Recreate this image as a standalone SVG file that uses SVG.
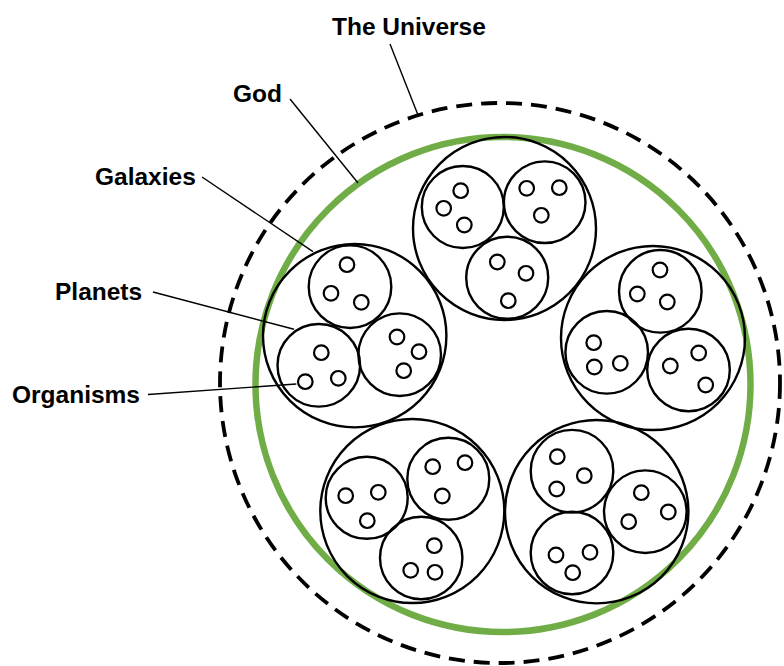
<svg xmlns="http://www.w3.org/2000/svg" width="784" height="666" viewBox="0 0 784 666">
<style>
.bg{fill:#ffffff}
.uni{fill:none;stroke:#000;stroke-width:3.8;stroke-dasharray:16 9}
.god{fill:none;stroke:#70AD47;stroke-width:6.5}
.gal{fill:none;stroke:#000;stroke-width:2.4}
.pl{fill:none;stroke:#000;stroke-width:2.4}
.org{fill:none;stroke:#000;stroke-width:2.2}
.lead{fill:none;stroke:#000;stroke-width:1.4}
.lbl{font-family:"Liberation Sans",Arial,sans-serif;font-weight:bold;font-size:24.5px;fill:#000}
</style>
<rect class="bg" x="0" y="0" width="784" height="666"/>
<g id="universe"><circle class="uni" cx="500" cy="383" r="280"/></g>
<g id="god"><circle class="god" cx="503" cy="384.5" r="247.5"/></g>

<g id="galaxy-top">
<circle class="gal" cx="504.5" cy="228.5" r="91.5"/>
<circle class="pl" cx="462.8" cy="207" r="41"/>
<circle class="pl" cx="544.7" cy="202.2" r="40.8"/>
<circle class="pl" cx="507.2" cy="277.8" r="41"/>
<circle class="org" cx="460.7" cy="190.7" r="7.3"/>
<circle class="org" cx="443.7" cy="208.3" r="7.3"/>
<circle class="org" cx="464.3" cy="225" r="7.3"/>
<circle class="org" cx="526.7" cy="188.3" r="7.3"/>
<circle class="org" cx="559.3" cy="187.7" r="7.3"/>
<circle class="org" cx="541.3" cy="215.3" r="7.3"/>
<circle class="org" cx="497.3" cy="262" r="7.3"/>
<circle class="org" cx="526" cy="273.3" r="7.3"/>
<circle class="org" cx="508.3" cy="300.7" r="7.3"/>
</g>

<g id="galaxy-right">
<circle class="gal" cx="653" cy="338" r="92"/>
<circle class="pl" cx="660.3" cy="291.3" r="41.3"/>
<circle class="pl" cx="606.7" cy="352.3" r="41.3"/>
<circle class="pl" cx="688.5" cy="370" r="41.3"/>
<circle class="org" cx="660" cy="270" r="7.3"/>
<circle class="org" cx="637.3" cy="294" r="7.3"/>
<circle class="org" cx="667.3" cy="302" r="7.3"/>
<circle class="org" cx="593.7" cy="342.7" r="7.3"/>
<circle class="org" cx="594.3" cy="367" r="7.3"/>
<circle class="org" cx="620.3" cy="363.3" r="7.3"/>
<circle class="org" cx="698.7" cy="353" r="7.3"/>
<circle class="org" cx="670.3" cy="366" r="7.3"/>
<circle class="org" cx="705.7" cy="385" r="7.3"/>
</g>

<g id="galaxy-bottom-right">
<circle class="gal" cx="596.7" cy="511.7" r="91.7"/>
<circle class="pl" cx="572" cy="471.2" r="41.3"/>
<circle class="pl" cx="645.3" cy="511.7" r="41.3"/>
<circle class="pl" cx="572" cy="553" r="41.3"/>
<circle class="org" cx="557.3" cy="456.7" r="7.3"/>
<circle class="org" cx="584.3" cy="475.7" r="7.3"/>
<circle class="org" cx="556.7" cy="489" r="7.3"/>
<circle class="org" cx="641.3" cy="492.7" r="7.3"/>
<circle class="org" cx="668.3" cy="512" r="7.3"/>
<circle class="org" cx="628.7" cy="521.7" r="7.3"/>
<circle class="org" cx="556" cy="555" r="7.3"/>
<circle class="org" cx="590" cy="552.3" r="7.3"/>
<circle class="org" cx="572.7" cy="572.7" r="7.3"/>
</g>

<g id="galaxy-bottom-left">
<circle class="gal" cx="412.3" cy="511" r="92"/>
<circle class="pl" cx="366.7" cy="497.8" r="41"/>
<circle class="pl" cx="448.3" cy="478.8" r="41"/>
<circle class="pl" cx="421.2" cy="558" r="41.2"/>
<circle class="org" cx="345.7" cy="495.7" r="7.3"/>
<circle class="org" cx="378.3" cy="492.3" r="7.3"/>
<circle class="org" cx="367.3" cy="520.7" r="7.3"/>
<circle class="org" cx="432.7" cy="466.7" r="7.3"/>
<circle class="org" cx="465" cy="462.7" r="7.3"/>
<circle class="org" cx="442.3" cy="496" r="7.3"/>
<circle class="org" cx="434.3" cy="545.7" r="7.3"/>
<circle class="org" cx="410.7" cy="570.3" r="7.3"/>
<circle class="org" cx="435" cy="572.3" r="7.3"/>
</g>

<g id="galaxy-left">
<circle class="gal" cx="354.7" cy="335.7" r="91.7"/>
<circle class="pl" cx="350" cy="286.7" r="41.3"/>
<circle class="pl" cx="318.8" cy="365.3" r="41.3"/>
<circle class="pl" cx="399.7" cy="354.7" r="41.3"/>
<circle class="org" cx="347" cy="264.7" r="7.3"/>
<circle class="org" cx="331" cy="293.3" r="7.3"/>
<circle class="org" cx="361.3" cy="302.3" r="7.3"/>
<circle class="org" cx="321.3" cy="352.7" r="7.3"/>
<circle class="org" cx="305.3" cy="381.7" r="7.3"/>
<circle class="org" cx="338.3" cy="378.3" r="7.3"/>
<circle class="org" cx="397" cy="337" r="7.3"/>
<circle class="org" cx="419" cy="351.7" r="7.3"/>
<circle class="org" cx="403.7" cy="370.7" r="7.3"/>
</g>

<g id="connectors">
<line class="lead" x1="390" y1="44" x2="418" y2="115"/>
<line class="lead" x1="290" y1="99" x2="358" y2="183"/>
<line class="lead" x1="202" y1="177" x2="313" y2="251.7"/>
<line class="lead" x1="153" y1="292" x2="294" y2="329.3"/>
<line class="lead" x1="148" y1="394.5" x2="296.3" y2="384"/>
</g>

<g id="label-universe"><text class="lbl" x="332" y="35">The Universe</text></g>
<g id="label-god"><text class="lbl" x="233" y="102">God</text></g>
<g id="label-galaxies"><text class="lbl" x="95" y="185">Galaxies</text></g>
<g id="label-planets"><text class="lbl" x="55" y="300">Planets</text></g>
<g id="label-organisms"><text class="lbl" x="12" y="403">Organisms</text></g>
</svg>
